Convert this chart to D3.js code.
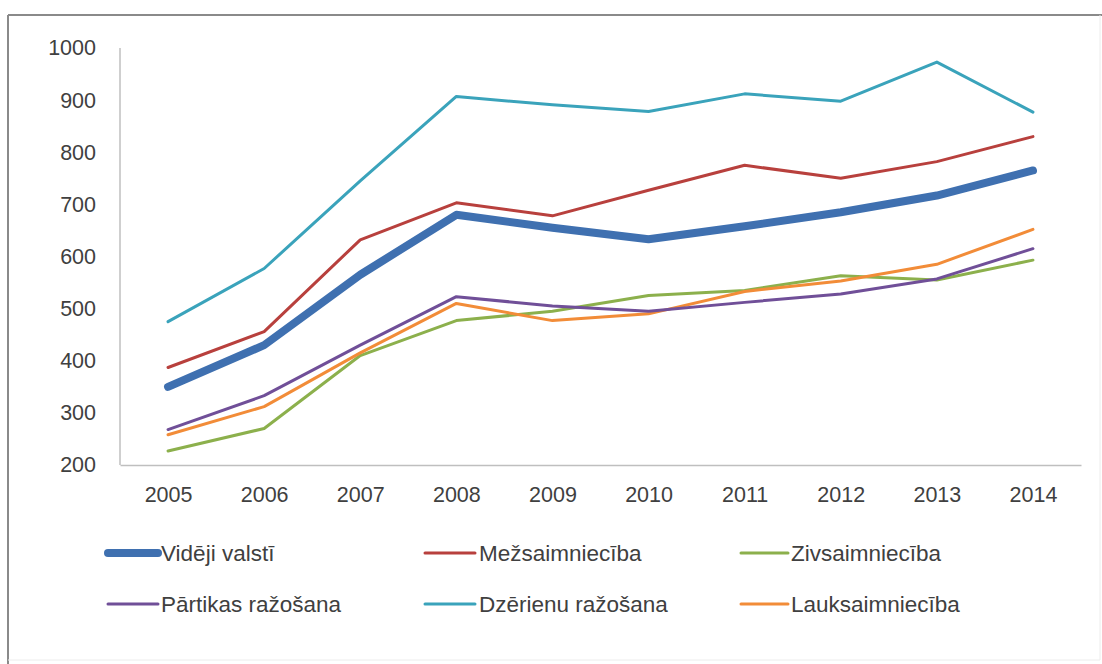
<!DOCTYPE html>
<html>
<head>
<meta charset="utf-8">
<script src="https://cdn.jsdelivr.net/npm/d3@7"></script>
<style>
  html, body { margin: 0; padding: 0; background: #fff; }
  svg { display: block; }
  text { font-family: "Liberation Sans", Arial, sans-serif; fill: #404040; }
</style>
</head>
<body>
<svg id="chart" width="1102" height="664"></svg>
<script>
const years = ["2005","2006","2007","2008","2009","2010","2011","2012","2013","2014"];
const yTicks = [200,300,400,500,600,700,800,900,1000];

const seriesNames = ["Vidēji valstī","Mežsaimniecība","Zivsaimniecība","Pārtikas ražošana","Dzērienu ražošana","Lauksaimniecība"];
const videjiValsti     = [350, 430, 565, 680, 655, 633, 658, 685, 717, 765];
const mezsaimnieciba   = [387, 456, 632, 703, 678, 727, 775, 750, 782, 830];
const zivsaimnieciba   = [227, 270, 410, 477, 495, 525, 535, 563, 555, 593];
const partikasRazosana = [268, 333, 430, 523, 505, 495, 512, 528, 557, 615];
const dzerienuRazosana = [475, 577, 745, 907, 891, 878, 912, 898, 973, 877];
const lauksaimnieciba  = [258, 312, 415, 510, 477, 490, 533, 553, 585, 652];

const seriesValues = [videjiValsti, mezsaimnieciba, zivsaimnieciba, partikasRazosana, dzerienuRazosana, lauksaimnieciba];
const colors = ["#3f70b0", "#b8403d", "#8cb04c", "#704f98", "#3aa3bb", "#f28c38"];
const widths = [8, 3, 3, 3, 3, 3];

const svg = d3.select("#chart");

// outer border
svg.append("line").attr("x1", 8).attr("y1", 15).attr("x2", 1102).attr("y2", 15).attr("stroke", "#8a8a8a").attr("stroke-width", 2);
svg.append("line").attr("x1", 8).attr("y1", 15).attr("x2", 8).attr("y2", 664).attr("stroke", "#8a8a8a").attr("stroke-width", 2);
svg.append("line").attr("x1", 1100).attr("y1", 15).attr("x2", 1100).attr("y2", 660).attr("stroke", "#ececec").attr("stroke-width", 1);
svg.append("line").attr("x1", 8).attr("y1", 660).attr("x2", 1100).attr("y2", 660).attr("stroke", "#ececec").attr("stroke-width", 1);

const x = d3.scalePoint().domain(years).range([120, 1081]).padding(0.5);
const y = d3.scaleLinear().domain([200, 1000]).range([465, 48]);

// axes
const xAxis = svg.append("g").attr("transform", "translate(0,465)")
  .call(d3.axisBottom(x).tickSize(0).tickPadding(22));
xAxis.select(".domain").attr("stroke", "#bfbfbf").attr("stroke-width", 1.5);
xAxis.selectAll("text").attr("font-size", 21.5).attr("font-family", "Liberation Sans, Arial, sans-serif").attr("fill", "#404040");

const yAxis = svg.append("g").attr("transform", "translate(120,0)")
  .call(d3.axisLeft(y).tickValues(yTicks).tickSize(0).tickPadding(24).tickFormat(d3.format("d")));
yAxis.select(".domain").attr("stroke", "#bfbfbf").attr("stroke-width", 1.5).attr("d", `M0,${y(1000)}V${y(200)}`);
yAxis.selectAll("text").attr("font-size", 21.5).attr("font-family", "Liberation Sans, Arial, sans-serif").attr("fill", "#404040");

// lines
const line = d3.line().x((d, i) => x(years[i])).y(d => y(d));
const drawOrder = [4, 1, 2, 5, 3, 0];
drawOrder.forEach(k => {
  svg.append("path")
    .datum(seriesValues[k])
    .attr("d", line)
    .attr("fill", "none")
    .attr("stroke", colors[k])
    .attr("stroke-width", widths[k])
    .attr("stroke-linejoin", "round")
    .attr("stroke-linecap", "round");
});

// legend
const legendLineX = [[108, 158], [425, 475], [741, 788]];
const legendTextX = [161, 479, 791];
const legendRows = [553, 604];
seriesNames.forEach((name, i) => {
  const c = i % 3;
  const cy = legendRows[Math.floor(i / 3)];
  const g = svg.append("g");
  g.append("line").attr("x1", legendLineX[c][0]).attr("x2", legendLineX[c][1]).attr("y1", cy).attr("y2", cy)
    .attr("stroke", colors[i]).attr("stroke-width", widths[i]).attr("stroke-linecap", "round");
  g.append("text").attr("x", legendTextX[c]).attr("y", cy).attr("dy", "0.35em")
    .attr("font-size", 22.5).text(name);
});
</script>
</body>
</html>
